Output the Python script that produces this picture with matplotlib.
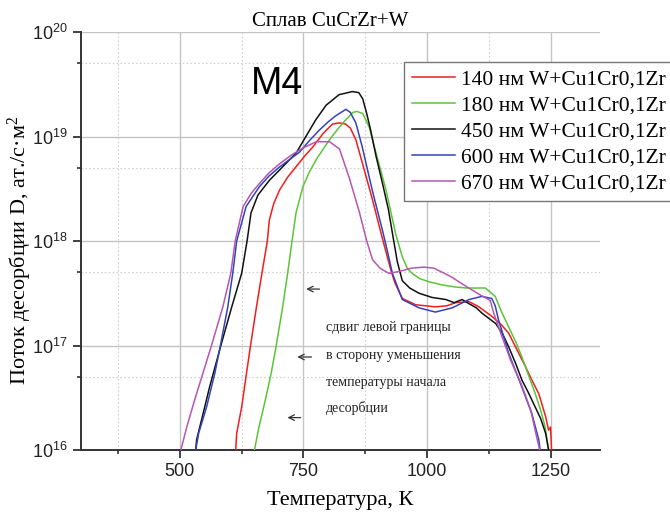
import matplotlib
matplotlib.use("Agg")
import matplotlib.pyplot as plt
import numpy as np
from matplotlib.ticker import FixedLocator, LogLocator, NullFormatter

plt.rcParams["font.family"] = ["Liberation Sans", "DejaVu Sans"]
plt.rcParams["mathtext.default"] = "regular"

SERIF = ["Liberation Serif", "DejaVu Serif"]

# temperature (K) and lg of desorption flux (at./s*m^2)
t_140 = [613, 615, 625, 635, 643, 655, 666, 677, 681, 690, 702, 718, 735, 752, 769, 790, 809, 823,
         835, 845, 856, 869, 890, 910, 927, 935, 950, 977, 1017, 1040, 1058, 1085, 1105, 1131, 1150,
         1165, 1182, 1199, 1212, 1226, 1240, 1246, 1250, 1252]
lg_140 = [16.0, 16.16, 16.41, 16.74, 17.0, 17.37, 17.69, 18.0, 18.2, 18.36, 18.49, 18.61, 18.71,
          18.81, 18.90, 19.03, 19.12, 19.13, 19.12, 19.08, 18.97, 18.75, 18.39, 18.02, 17.72, 17.6,
          17.45, 17.39, 17.37, 17.38, 17.41, 17.42, 17.37, 17.28, 17.2, 17.12, 16.96, 16.80, 16.67,
          16.54, 16.32, 16.19, 16.22, 16.0]

t_180 = [651, 660, 673, 685, 695, 708, 718, 727, 735, 749, 762, 776, 790, 803, 816, 830, 850, 858,
         870, 883, 897, 917, 937, 950, 960, 970, 985, 1004, 1030, 1057, 1080, 1104, 1118, 1138, 1150,
         1165, 1180, 1192, 1205, 1219, 1230, 1239, 1246]
lg_180 = [16.0, 16.22, 16.48, 16.74, 17.0, 17.37, 17.69, 18.0, 18.27, 18.52, 18.66, 18.78, 18.88,
          18.97, 19.05, 19.13, 19.23, 19.24, 19.22, 19.09, 18.84, 18.49, 18.06, 17.85, 17.74, 17.69,
          17.64, 17.61, 17.58, 17.56, 17.55, 17.55, 17.55, 17.47, 17.33, 17.18, 17.03, 16.89, 16.72,
          16.54, 16.38, 16.22, 16.0]

t_450 = [532, 534, 544, 560, 583, 605, 625, 636, 644, 658, 681, 708, 735, 755, 775, 796, 822, 849,
         862, 870, 878, 886, 897, 910, 922, 932, 940, 950, 965, 984, 1010, 1038, 1055, 1071, 1085,
         1100, 1111, 1125, 1139, 1152, 1165, 1180, 1192, 1205, 1219, 1230, 1240, 1246]
lg_450 = [16.0, 16.1, 16.29, 16.6, 17.0, 17.37, 17.69, 18.0, 18.27, 18.44, 18.58, 18.71, 18.84,
          19.0, 19.16, 19.30, 19.40, 19.43, 19.42, 19.36, 19.22, 19.06, 18.81, 18.55, 18.3, 18.02,
          17.8, 17.62, 17.55, 17.50, 17.46, 17.44, 17.41, 17.44, 17.40, 17.36, 17.31, 17.26, 17.21,
          17.12, 16.99, 16.82, 16.67, 16.55, 16.41, 16.3, 16.16, 16.0]

t_600 = [532, 538, 554, 571, 582, 597, 607, 615, 634, 661, 680, 702, 722, 742, 762, 782, 800, 816,
         836, 845, 856, 869, 889, 910, 920, 930, 950, 984, 1017, 1051, 1085, 1111, 1131, 1138, 1145,
         1165, 1192, 1212, 1226, 1229]
lg_600 = [16.0, 16.16, 16.41, 16.74, 17.0, 17.37, 17.69, 18.0, 18.33, 18.52, 18.62, 18.71, 18.78,
          18.85, 18.96, 19.06, 19.14, 19.20, 19.26, 19.23, 19.13, 18.90, 18.49, 18.1, 17.9, 17.69,
          17.44, 17.36, 17.32, 17.36, 17.44, 17.47, 17.45, 17.38, 17.24, 16.93, 16.60, 16.35, 16.10,
          16.0]

t_670 = [502, 514, 530, 547, 564, 587, 603, 612, 628, 645, 661, 680, 702, 725, 749, 776, 803, 823,
         843, 863, 878, 890, 905, 923, 945, 968, 994, 1014, 1048, 1081, 1109, 1121, 1128, 1135, 1149,
         1169, 1190, 1210, 1222, 1228]
lg_670 = [16.0, 16.22, 16.48, 16.74, 17.0, 17.37, 17.69, 18.0, 18.33, 18.46, 18.55, 18.65, 18.74,
          18.82, 18.89, 18.95, 18.95, 18.88, 18.6, 18.28, 18.0, 17.82, 17.74, 17.69, 17.71, 17.74,
          17.75, 17.74, 17.66, 17.56, 17.48, 17.45, 17.43, 17.31, 17.12, 16.86, 16.64, 16.38, 16.12,
          16.0]

labels = ["140 нм W+Cu1Cr0,1Zr", "180 нм W+Cu1Cr0,1Zr", "450 нм W+Cu1Cr0,1Zr",
          "600 нм W+Cu1Cr0,1Zr", "670 нм W+Cu1Cr0,1Zr"]
colors = ["#f21d1d", "#5cc43a", "#111111", "#3344b8", "#b457b4"]

note_lines = ["сдвиг левой границы", "в сторону уменьшения", "температуры начала", "десорбции"]

series = [(t_140, lg_140), (t_180, lg_180), (t_450, lg_450), (t_600, lg_600), (t_670, lg_670)]

fig = plt.figure(figsize=(6.7, 5.16), dpi=100)
ax = fig.add_axes([81 / 670, 66 / 516, 519 / 670, 418 / 516])

handles = []
for (t, lg), c, lab in zip(series, colors, labels):
    h, = ax.plot(t, 10.0 ** np.array(lg), color=c, lw=1.1, label=lab, zorder=3)
    handles.append(h)

ax.set_yscale("log")
ax.set_xlim(300, 1350)
ax.set_ylim(1e16, 1e20)
ax.xaxis.set_major_locator(FixedLocator([500, 750, 1000, 1250]))
ax.xaxis.set_minor_locator(FixedLocator([375, 625, 875, 1125]))
ax.yaxis.set_major_locator(LogLocator(base=10, numticks=10))
ax.yaxis.set_minor_locator(LogLocator(base=10, subs=[5.0], numticks=10))
ax.yaxis.set_minor_formatter(NullFormatter())

ax.grid(which="major", color="#c4c4c4", lw=1.0, ls="-", zorder=0)
ax.grid(which="minor", color="#cfcfcf", lw=0.8, ls=(0, (1.5, 2)), zorder=0)

for side in ("top", "right"):
    ax.spines[side].set_visible(False)
for side in ("left", "bottom"):
    ax.spines[side].set_color("#333333")
    ax.spines[side].set_linewidth(1.4)
ax.tick_params(which="major", direction="out", length=6, width=1.3, color="#333333",
               labelsize=13, labelcolor="#222222")
ax.tick_params(which="minor", direction="out", length=3, width=1.2, color="#333333")

fig.text(330 / 670, 1 - 21 / 516, "Сплав CuCrZr+W", family=SERIF, fontsize=15,
         ha="center", va="center")
fig.text(20 / 670, 1 - 250 / 516, "Поток десорбции D, ат./с·м$^2$", family=SERIF, fontsize=16,
         rotation=90, ha="center", va="center")
fig.text(340 / 670, 1 - 500 / 516, "Температура, К", family=SERIF, fontsize=16,
         ha="center", va="center")

ax.text(696, 10 ** 19.5, "M4", fontsize=27, ha="center", va="center")

note_y = [17.17, 16.90, 16.65, 16.40]
for s, ly in zip(note_lines, note_y):
    ax.text(796, 10 ** ly, s, family=SERIF, fontsize=10, ha="left", va="center", color="#222222")

arrows = [(788, 750, 17.54), (772, 732, 16.89), (750, 712, 16.31)]
for x0, x1, ly in arrows:
    ax.annotate("", xy=(x1, 10 ** ly), xytext=(x0, 10 ** ly),
                arrowprops=dict(arrowstyle="->", color="#333333", lw=0.9))

leg = ax.legend(handles=handles, loc="upper left", bbox_to_anchor=(404 / 670, 1 - 62 / 516),
                bbox_transform=fig.transFigure, prop={"family": SERIF, "size": 15.5},
                frameon=True, fancybox=False, framealpha=1, edgecolor="#777777",
                borderpad=0.35, labelspacing=0.27, handlelength=2.0, handletextpad=0.3,
                borderaxespad=0)
leg.get_frame().set_linewidth(1.0)

fig.savefig("out.png", dpi=100)
